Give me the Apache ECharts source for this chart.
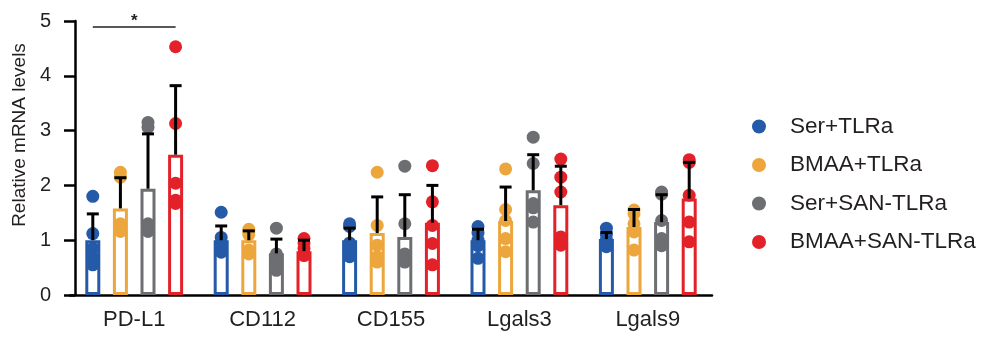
<!DOCTYPE html>
<html>
<head>
<meta charset="utf-8">
<script src="https://cdn.jsdelivr.net/npm/echarts@6/dist/echarts.min.js"></script>
<style>
html,body{margin:0;padding:0;background:#fff;}
#chart{width:985px;height:338px;}
</style>
</head>
<body>
<div id="chart"></div>
<script>
// ---- data ----
const categories = ['PD-L1', 'CD112', 'CD155', 'Lgals3', 'Lgals9'];
const groupNames = ['Ser+TLRa', 'BMAA+TLRa', 'Ser+SAN-TLRa', 'BMAA+SAN-TLRa'];
const yTicks = [0, 1, 2, 3, 4, 5];

const meanSerTLRa      = [1.00, 1.00, 1.00, 1.00, 1.02];
const meanBMAATLRa     = [1.58, 1.00, 1.13, 1.35, 1.24];
const meanSerSANTLRa   = [1.94, 0.76, 1.06, 1.91, 1.33];
const meanBMAASANTLRa  = [2.56, 0.80, 1.32, 1.64, 1.76];

const sdSerTLRa        = [0.48, 0.26, 0.22, 0.20, 0.12];
const sdBMAATLRa       = [0.56, 0.17, 0.66, 0.62, 0.32];
const sdSerSANTLRa     = [1.00, 0.26, 0.77, 0.65, 0.50];
const sdBMAASANTLRa    = [1.26, 0.20, 0.68, 0.71, 0.66];

const ptsSerTLRa = [
  [1.80, 1.12, 0.85, 0.68, 0.55],
  [1.51, 1.05, 0.95, 0.85, 0.78],
  [1.30, 1.25, 0.95, 0.80, 0.70],
  [1.25, 1.13, 1.00, 0.90, 0.67],
  [1.22, 1.10, 1.00, 0.95, 0.88]
];
const ptsBMAATLRa = [
  [2.24, 2.15, 1.30, 1.20, 1.16],
  [1.20, 1.15, 1.10, 0.82, 0.75],
  [2.24, 1.27, 0.91, 0.70, 0.60],
  [2.30, 1.56, 1.36, 1.03, 0.79],
  [1.55, 1.48, 1.30, 1.15, 0.82]
];
const ptsSerSANTLRa = [
  [3.15, 3.06, 1.30, 1.18, 1.16],
  [1.22, 0.75, 0.72, 0.60, 0.45],
  [2.35, 1.30, 0.75, 0.65, 0.60],
  [2.88, 2.40, 1.67, 1.59, 1.33],
  [1.88, 1.84, 1.36, 1.03, 0.90]
];
const ptsBMAASANTLRa = [
  [4.53, 3.13, 2.04, 1.73, 1.67],
  [1.03, 0.95, 0.85, 0.75, 0.72],
  [2.36, 1.70, 1.27, 0.94, 0.55],
  [2.48, 2.15, 1.88, 1.06, 0.91],
  [2.47, 2.42, 1.82, 1.33, 0.97]
];

// significance bracket: between group 0 and group 3 of category 0
const sigCategory = 0;
const sigLevel = 4.89;
const sigLabel = '*';

// ---- styling ----
const colors = ['#255aa8', '#eca63b', '#6d6e71', '#e32129'];
const means = [meanSerTLRa, meanBMAATLRa, meanSerSANTLRa, meanBMAASANTLRa];
const sds = [sdSerTLRa, sdBMAATLRa, sdSerSANTLRa, sdBMAASANTLRa];
const pts = [ptsSerTLRa, ptsBMAATLRa, ptsSerSANTLRa, ptsBMAASANTLRa];

const FONT = "'Liberation Sans', Arial, Helvetica, sans-serif";
const TXT = '#231f20';
const BAR_W = 15;
const BAR_GAP = 0.84;
const STEP = BAR_W * (1 + BAR_GAP);
function offsetOf(j) { return (j - (groupNames.length - 1) / 2) * STEP; }

const series = [];
groupNames.forEach(function (name, j) {
  series.push({
    name: name,
    type: 'bar',
    barWidth: BAR_W,
    barGap: (BAR_GAP * 100) + '%',
    data: means[j],
    itemStyle: { color: '#ffffff', borderColor: colors[j], borderWidth: 3 },
    emphasis: { disabled: true },
    z: 2
  });
});
groupNames.forEach(function (name, j) {
  const d = [];
  pts[j].forEach(function (arr, ci) { arr.forEach(function (v) { d.push([ci, v]); }); });
  series.push({
    name: name,
    type: 'scatter',
    data: d,
    symbol: 'circle',
    symbolSize: 13,
    symbolOffset: [offsetOf(j), 0],
    itemStyle: { color: colors[j], opacity: 1 },
    emphasis: { disabled: true },
    z: 3
  });
});
groupNames.forEach(function (name, j) {
  series.push({
    name: name,
    type: 'custom',
    data: categories.map(function (c, ci) { return [ci, means[j][ci], means[j][ci] + sds[j][ci]]; }),
    encode: { x: 0, y: [1, 2] },
    z: 4,
    silent: true,
    renderItem: function (params, api) {
      const ci = api.value(0);
      const p0 = api.coord([ci, api.value(1)]);
      const p1 = api.coord([ci, api.value(2)]);
      const x = p0[0] + offsetOf(j);
      const st = { stroke: '#000', lineWidth: 3 };
      return {
        type: 'group',
        children: [
          { type: 'line', shape: { x1: x, y1: p0[1], x2: x, y2: p1[1] }, style: st },
          { type: 'line', shape: { x1: x - 6, y1: p1[1], x2: x + 6, y2: p1[1] }, style: st }
        ]
      };
    }
  });
});
series.push({
  type: 'custom',
  data: [[sigCategory, sigLevel]],
  z: 5,
  silent: true,
  renderItem: function (params, api) {
    const p = api.coord([api.value(0), api.value(1)]);
    const x1 = p[0] + offsetOf(0), x2 = p[0] + offsetOf(groupNames.length - 1);
    return {
      type: 'group',
      children: [
        { type: 'line', shape: { x1: x1, y1: p[1], x2: x2, y2: p[1] }, style: { stroke: TXT, lineWidth: 1.6 } },
        { type: 'text', style: { x: (x1 + x2) / 2, y: p[1] + 3, text: sigLabel, fill: TXT,
          font: "bold 17px " + FONT, align: 'center', verticalAlign: 'bottom' } }
      ]
    };
  }
});

const chart = echarts.init(document.getElementById('chart'), null, { renderer: 'canvas' });
chart.setOption({
  animation: false,
  backgroundColor: '#ffffff',
  textStyle: { fontFamily: FONT },
  grid: { left: 70, right: 273, top: 21, bottom: 43, containLabel: false },
  legend: {
    orient: 'vertical',
    left: 747,
    top: 110,
    itemWidth: 14,
    itemHeight: 14,
    itemGap: 15.5,
    selectedMode: false,
    data: groupNames.map(function (n, j) {
      return { name: n, icon: 'circle', itemStyle: { color: colors[j], borderWidth: 0 } };
    }),
    textStyle: { fontSize: 22.5, color: TXT, fontFamily: FONT, lineHeight: 22, padding: [0, 0, 0, 19] }
  },
  xAxis: {
    type: 'category',
    data: categories,
    axisLine: { lineStyle: { color: '#000', width: 2.5 } },
    axisTick: { show: false },
    axisLabel: { fontSize: 22, color: TXT, margin: 14, fontFamily: FONT },
    splitLine: { show: false }
  },
  yAxis: {
    type: 'value',
    min: yTicks[0],
    max: yTicks[yTicks.length - 1],
    interval: 1,
    offset: -5,
    name: 'Relative mRNA levels',
    nameLocation: 'middle',
    nameGap: 45,
    nameTextStyle: { fontSize: 19, color: TXT, fontFamily: FONT, padding: [0, 0, 0, 46] },
    axisLine: { show: true, lineStyle: { color: '#000', width: 2.5 } },
    axisTick: { show: true, length: 11, lineStyle: { color: '#000', width: 2.5 } },
    axisLabel: { fontSize: 20, color: TXT, margin: 24, fontFamily: FONT },
    splitLine: { show: false }
  },
  series: series
});
</script>
</body>
</html>
